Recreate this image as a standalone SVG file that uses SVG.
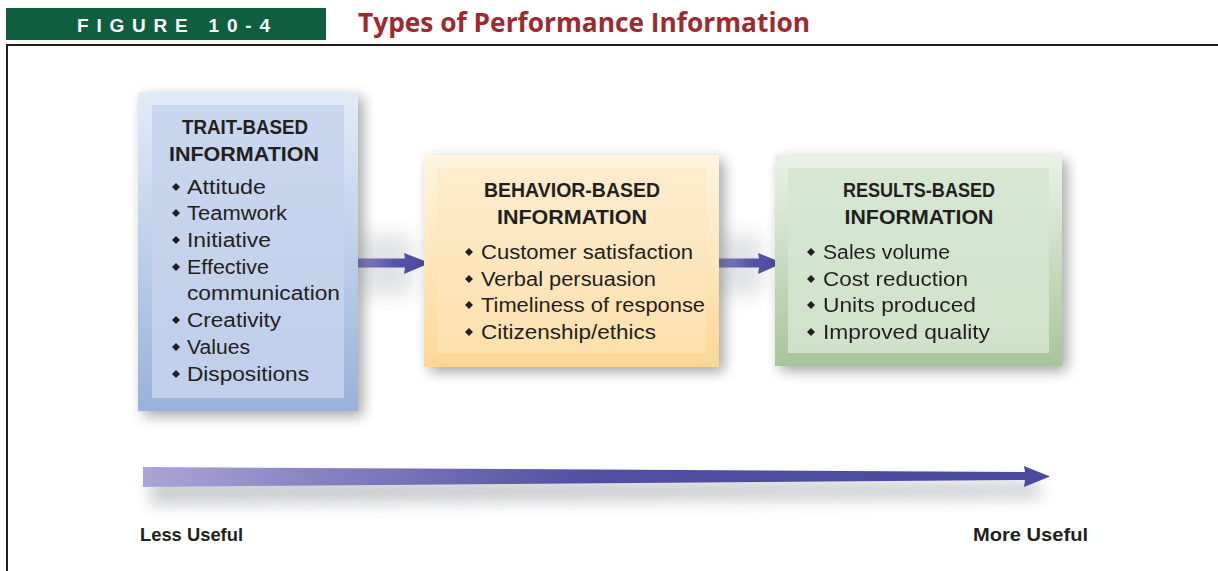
<svg xmlns="http://www.w3.org/2000/svg" width="1218" height="571" viewBox="0 0 1218 571">
<defs>
<style>
.hd{font-family:"Liberation Sans",Arial,sans-serif;font-weight:bold;font-size:20px;fill:#231f20;text-anchor:middle}
.it{font-family:"Liberation Sans",Arial,sans-serif;font-size:20px;fill:#231f20}
.ax{font-family:"Liberation Sans",Arial,sans-serif;font-weight:bold;font-size:19px;fill:#231f20}
</style>
<filter id="sh" x="-20%" y="-20%" width="140%" height="140%">
<feGaussianBlur in="SourceAlpha" stdDeviation="7"/>
<feOffset dx="5" dy="5"/>
<feComponentTransfer><feFuncA type="linear" slope="0.35"/></feComponentTransfer>
<feMerge><feMergeNode/><feMergeNode in="SourceGraphic"/></feMerge>
</filter>
<filter id="blur" x="-20%" y="-100%" width="140%" height="300%"><feGaussianBlur stdDeviation="8"/></filter>
<filter id="blur2" x="-50%" y="-50%" width="200%" height="200%"><feGaussianBlur stdDeviation="10"/></filter>
<linearGradient id="gT" x1="0" y1="0" x2="0" y2="1"><stop offset="0" stop-color="#e2ecf7"/><stop offset="1" stop-color="#98b2db"/></linearGradient>
<linearGradient id="gTi" x1="0" y1="0" x2="0" y2="1"><stop offset="0" stop-color="#c9d7ee"/><stop offset="1" stop-color="#c0cfea"/></linearGradient>
<linearGradient id="gB" x1="0" y1="0" x2="0" y2="1"><stop offset="0" stop-color="#fff5e0"/><stop offset="1" stop-color="#fbd795"/></linearGradient>
<linearGradient id="gBi" x1="0" y1="0" x2="0" y2="1"><stop offset="0" stop-color="#feeccd"/><stop offset="1" stop-color="#fde0ad"/></linearGradient>
<linearGradient id="gR" x1="0" y1="0" x2="0" y2="1"><stop offset="0" stop-color="#eaf2e6"/><stop offset="1" stop-color="#a7c59a"/></linearGradient>
<linearGradient id="gRi" x1="0" y1="0" x2="0" y2="1"><stop offset="0" stop-color="#d7e7d2"/><stop offset="1" stop-color="#cfe2c9"/></linearGradient>
<linearGradient id="gA" x1="143" y1="0" x2="1050" y2="0" gradientUnits="userSpaceOnUse"><stop offset="0" stop-color="#aba5d6"/><stop offset="0.5" stop-color="#4f4ea1"/><stop offset="1" stop-color="#4a4aa0"/></linearGradient>
<linearGradient id="gS1" x1="358" y1="0" x2="430" y2="0" gradientUnits="userSpaceOnUse"><stop offset="0" stop-color="#8b88c6"/><stop offset="0.5" stop-color="#5553a6"/><stop offset="1" stop-color="#4a4aa0"/></linearGradient>
<linearGradient id="gS2" x1="719" y1="0" x2="783" y2="0" gradientUnits="userSpaceOnUse"><stop offset="0" stop-color="#8b88c6"/><stop offset="0.5" stop-color="#5553a6"/><stop offset="1" stop-color="#4a4aa0"/></linearGradient>
<path id="dm" d="M0,-4 L4,0 L0,4 L-4,0 Z" fill="#231f20"/>
</defs>
<rect width="1218" height="571" fill="#ffffff"/>

<g id="header">
<rect x="6" y="8" width="320" height="32" fill="#0f5e3f"/>
<text x="77" y="32" font-family="Liberation Sans,Arial,sans-serif" font-weight="bold" font-size="19" fill="#ffffff" textLength="193" lengthAdjust="spacing">FIGURE 10-4</text>
<text x="358" y="32" font-family="Open Sans,Liberation Sans,sans-serif" font-weight="bold" font-size="26" fill="#9e2a30" textLength="452" lengthAdjust="spacingAndGlyphs">Types of Performance Information</text>
</g>

<g id="frame" fill="none" stroke="#231f20" stroke-width="2">
<path d="M7,571 L7,45 L1218,45"/>
</g>

<g id="shading" opacity="0.35">
<rect x="362" y="235" width="50" height="60" fill="#a9abb0" filter="url(#blur2)"/>
<rect x="722" y="235" width="40" height="60" fill="#a9abb0" filter="url(#blur2)"/>
</g>

<g id="connectors">
<path d="M358,258.5 L405,258.5 L404,253 L430,263 L404,274 L405,267.5 L358,267.5 Z" fill="url(#gS1)"/>
<path d="M719,258.5 L759,258.5 L758,253 L783,263 L758,274 L759,267.5 L719,267.5 Z" fill="url(#gS2)"/>
</g>

<g id="trait">
<rect x="138" y="92" width="220" height="319" fill="url(#gT)" filter="url(#sh)"/>
<rect x="152" y="105" width="192" height="293" fill="url(#gTi)"/>
<text class="hd" x="245" y="134" textLength="126" lengthAdjust="spacingAndGlyphs">TRAIT-BASED</text>
<text class="hd" x="244" y="161" textLength="150" lengthAdjust="spacingAndGlyphs">INFORMATION</text>
<use href="#dm" x="176" y="187"/><text class="it" x="187" y="194" textLength="79" lengthAdjust="spacingAndGlyphs">Attitude</text>
<use href="#dm" x="176" y="213"/><text class="it" x="187" y="220" textLength="100" lengthAdjust="spacingAndGlyphs">Teamwork</text>
<use href="#dm" x="176" y="240"/><text class="it" x="187" y="247" textLength="84" lengthAdjust="spacingAndGlyphs">Initiative</text>
<use href="#dm" x="176" y="267"/><text class="it" x="187" y="274" textLength="82" lengthAdjust="spacingAndGlyphs">Effective</text>
<text class="it" x="187" y="300" textLength="153" lengthAdjust="spacingAndGlyphs">communication</text>
<use href="#dm" x="176" y="320"/><text class="it" x="187" y="327" textLength="94" lengthAdjust="spacingAndGlyphs">Creativity</text>
<use href="#dm" x="176" y="347"/><text class="it" x="187" y="354" textLength="63" lengthAdjust="spacingAndGlyphs">Values</text>
<use href="#dm" x="176" y="374"/><text class="it" x="187" y="381" textLength="122" lengthAdjust="spacingAndGlyphs">Dispositions</text>
</g>

<g id="behavior">
<rect x="424" y="155" width="295" height="212" fill="url(#gB)" filter="url(#sh)"/>
<rect x="437" y="168" width="269" height="185" fill="url(#gBi)"/>
<text class="hd" x="572" y="197" textLength="176" lengthAdjust="spacingAndGlyphs">BEHAVIOR-BASED</text>
<text class="hd" x="572" y="224" textLength="150" lengthAdjust="spacingAndGlyphs">INFORMATION</text>
<use href="#dm" x="469" y="252"/><text class="it" x="481" y="259" textLength="212" lengthAdjust="spacingAndGlyphs">Customer satisfaction</text>
<use href="#dm" x="469" y="279"/><text class="it" x="481" y="286" textLength="175" lengthAdjust="spacingAndGlyphs">Verbal persuasion</text>
<use href="#dm" x="469" y="305"/><text class="it" x="481" y="312" textLength="224" lengthAdjust="spacingAndGlyphs">Timeliness of response</text>
<use href="#dm" x="469" y="332"/><text class="it" x="481" y="339" textLength="175" lengthAdjust="spacingAndGlyphs">Citizenship/ethics</text>
</g>

<g id="results">
<rect x="775" y="155" width="287" height="211" fill="url(#gR)" filter="url(#sh)"/>
<rect x="788" y="168" width="261" height="185" fill="url(#gRi)"/>
<text class="hd" x="919" y="197" textLength="152" lengthAdjust="spacingAndGlyphs">RESULTS-BASED</text>
<text class="hd" x="919" y="224" textLength="149" lengthAdjust="spacingAndGlyphs">INFORMATION</text>
<use href="#dm" x="811" y="252"/><text class="it" x="823" y="259" textLength="127" lengthAdjust="spacingAndGlyphs">Sales volume</text>
<use href="#dm" x="811" y="279"/><text class="it" x="823" y="286" textLength="145" lengthAdjust="spacingAndGlyphs">Cost reduction</text>
<use href="#dm" x="811" y="305"/><text class="it" x="823" y="312" textLength="153" lengthAdjust="spacingAndGlyphs">Units produced</text>
<use href="#dm" x="811" y="332"/><text class="it" x="823" y="339" textLength="167" lengthAdjust="spacingAndGlyphs">Improved quality</text>
</g>

<g id="scale">
<path d="M150,478 L1040,482 L1040,498 L150,505 Z" fill="#9a9ca3" opacity="0.5" filter="url(#blur)"/>
<path d="M143,467 L1025,472 L1024,466 L1050,476.5 L1024,487 L1025,480 L143,487 Z" fill="url(#gA)"/>
<text class="ax" x="140" y="541" textLength="103" lengthAdjust="spacingAndGlyphs">Less Useful</text>
<text class="ax" x="973" y="541" textLength="115" lengthAdjust="spacingAndGlyphs">More Useful</text>
</g>
</svg>
